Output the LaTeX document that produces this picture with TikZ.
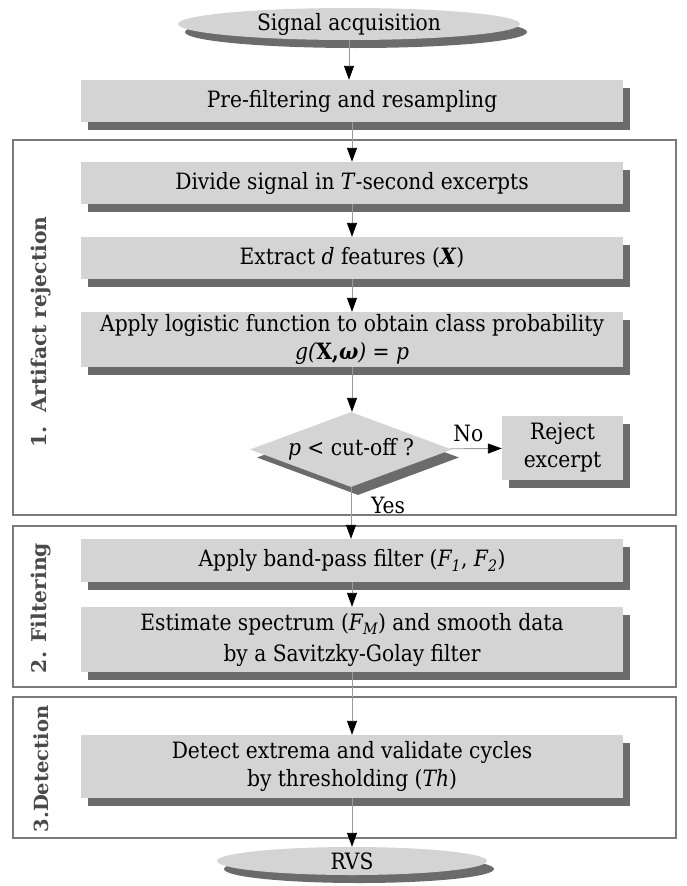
\documentclass[tikz,border=0pt]{standalone}
\usepackage{fontspec}
\setmainfont{DejaVu Serif Condensed}
\newfontfamily\grpfont{DejaVu Serif}
\usetikzlibrary{shapes.geometric,shadows,arrows.meta}
\definecolor{boxgray}{HTML}{D4D4D4}
\definecolor{shadowgray}{HTML}{6B6B6B}
\definecolor{framegray}{HTML}{7A7A7A}
\definecolor{linegray}{HTML}{9A9A9A}
\definecolor{labelgray}{HTML}{4A4A4A}
\begin{document}
\begin{tikzpicture}[x=1pt,y=-1pt,
  font=\fontsize{22.5}{28}\selectfont,
  shad/.style={drop shadow={shadow xshift=7pt,shadow yshift=-8pt,fill=shadowgray,opacity=1}},
  procbox/.style={rectangle, fill=boxgray, shad, minimum width=542pt, inner sep=0pt, align=center},
  term/.style={ellipse, fill=boxgray, shad, inner sep=0pt},
  decision/.style={diamond, fill=boxgray, shad, inner sep=0pt, minimum width=202pt, minimum height=75pt, aspect=2.7},
  frame/.style={draw=framegray, line width=1.6pt, fill=white, inner sep=0pt},
  conn/.style={draw=linegray, line width=0.9pt, -{Triangle[length=14pt,width=10pt,color=black]}},
  grp/.style={rotate=90, font=\grpfont\bfseries\fontsize{20.3}{24}\selectfont, text=labelgray},
  lbl/.style={inner sep=0pt}
]
\useasboundingbox (0,0) rectangle (686,886);
% frames
\node[frame, minimum width=663pt, minimum height=375pt] (f1) at (344.5,327.5) {};
\node[frame, minimum width=663pt, minimum height=161pt] (f2) at (344.5,606.5) {};
\node[frame, minimum width=663pt, minimum height=141pt] (f3) at (344.5,767.5) {};
\node[grp] (g1) at (41,332) {1.~~Artifact rejection};
\node[grp] (g2) at (41,608) {2. Filtering};
\node[grp, font=\grpfont\bfseries\fontsize{19.5}{24}\selectfont] (g3) at (41,769) {3.Detection};
% nodes
\node[term, minimum width=342pt, minimum height=32pt] (sig) at (349,24) {Signal acquisition};
\node[procbox, minimum height=42pt] (pre) at (352,101) {Pre-filtering and resampling};
\node[procbox, minimum height=42pt] (div) at (352,183) {Divide signal in \textit{T}-second excerpts};
\node[procbox, minimum height=42pt] (ext) at (352,258) {Extract \textit{d} features (\textbf{\textit{X}})};
\node[procbox, minimum height=55pt] (log) at (352,339.5) {Apply logistic function to obtain class probability\\\textit{g(}\textbf{X,}\textbf{\textit{ω}}\textit{)} = \textit{p}};
\node[decision] (dec) at (351,449.5) {\textit{p} < cut-off ?};
\node[procbox, minimum width=121pt, minimum height=64pt] (rej) at (562.5,448) {Reject\\excerpt};
\node[procbox, minimum height=43pt] (band) at (352,560.5) {Apply band-pass filter (\textit{F\textsubscript{1}}, \textit{F\textsubscript{2}})};
\node[procbox, minimum height=65pt] (est) at (352,639.5) {Estimate spectrum (\textit{F\textsubscript{M}}) and smooth data\\[3pt]by a Savitzky-Golay filter};
\node[procbox, minimum height=63pt] (det) at (352,766.5) {Detect extrema and validate cycles\\by thresholding (\textit{Th})};
\node[term, minimum width=270pt, minimum height=28pt] (rvs) at (352,861) {RVS};
% connectors
\draw[conn] (sig) -- (sig |- pre.north);
\draw[conn] (pre) -- (div);
\draw[conn] (div) -- (ext);
\draw[conn] (ext) -- (log);
\draw[conn] (log) -- (log |- dec.north);
\draw[conn] (dec) -- node[lbl, above=6pt, pos=0.35] (no) {No} (rej);
\draw[conn] (dec) -- (dec |- band.north);
\node[lbl] (yes) at (388,505) {Yes};
\draw[conn] (band) -- (est);
\draw[conn] (est) -- (det);
\draw[conn] (det) -- (det |- rvs.north);
\end{tikzpicture}
\end{document}
